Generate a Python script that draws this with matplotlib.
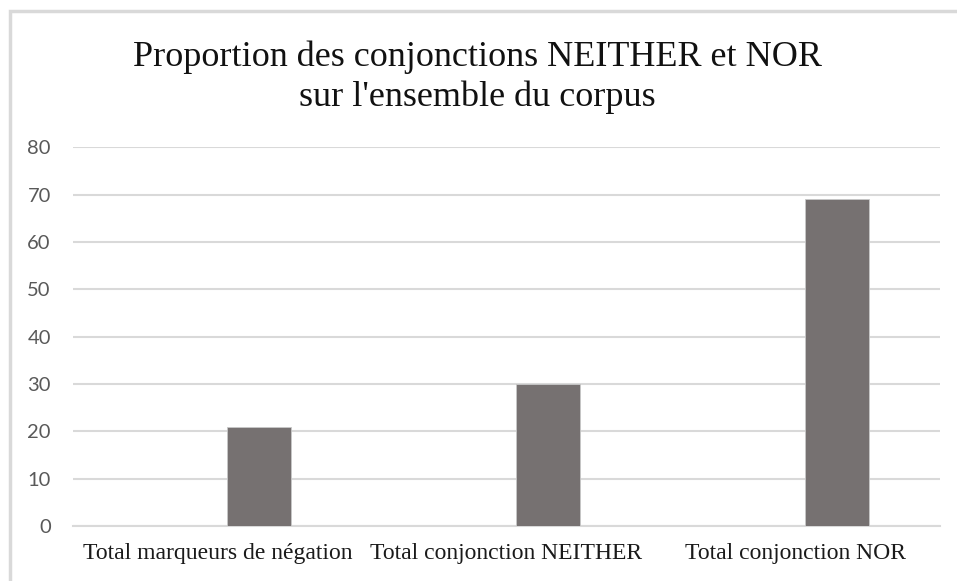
import matplotlib.pyplot as plt
from matplotlib.patches import Rectangle
import numpy as np

categories = [
    "Total marqueurs de négation",
    "Total conjonction NEITHER",
    "Total conjonction NOR",
]
values = [21, 30, 69]
title = "Proportion des conjonctions NEITHER et NOR\nsur l'ensemble du corpus"

BAR_COLOR = "#767171"
GRID_COLOR = "#d9d9d9"
BAR_OFFSET = 0.143
BAR_WIDTH = 0.222

fig = plt.figure(figsize=(9.57, 5.81), dpi=100)
ax = fig.add_axes([73 / 957, 1 - 526 / 581, (940 - 73) / 957, (526 - 147.3) / 581])

# chart frame, cropped on the right and bottom like the original screenshot
fig.patches.append(Rectangle((9.5 / 957, -0.1), 1.2, 1 - 11 / 581 + 0.1,
                             transform=fig.transFigure, fill=False,
                             edgecolor=GRID_COLOR, linewidth=2.5, zorder=0))

x = np.arange(len(categories))
ax.bar(x + BAR_OFFSET, values, width=BAR_WIDTH, color=BAR_COLOR,
       edgecolor="#c8c8c8", linewidth=0.6, zorder=3)

ax.set_xlim(-0.5, len(categories) - 0.5)
ax.set_ylim(0, 80)
ax.set_yticks(np.arange(0, 81, 10))
ax.yaxis.grid(True, color=GRID_COLOR, linewidth=1.5, zorder=0)
ax.set_axisbelow(True)

for side in ["top", "right", "left"]:
    ax.spines[side].set_visible(False)
ax.spines["bottom"].set_color(GRID_COLOR)
ax.spines["bottom"].set_linewidth(1.5)

ax.set_xticks(x)
ax.set_xticklabels(categories, family="Liberation Serif", fontsize=17, color="#1a1a1a")
ax.tick_params(axis="x", length=0, pad=12)
ax.tick_params(axis="y", length=0, pad=16, labelsize=14.5, labelcolor="#595959")
for lbl in ax.get_yticklabels():
    lbl.set_family("Lato")

fig.text(0.499, 1 - 77 / 581, title, ha="center", va="center",
         family="Liberation Serif", fontsize=26, color="#111111", linespacing=1.25)

fig.savefig("out.png", dpi=100)
